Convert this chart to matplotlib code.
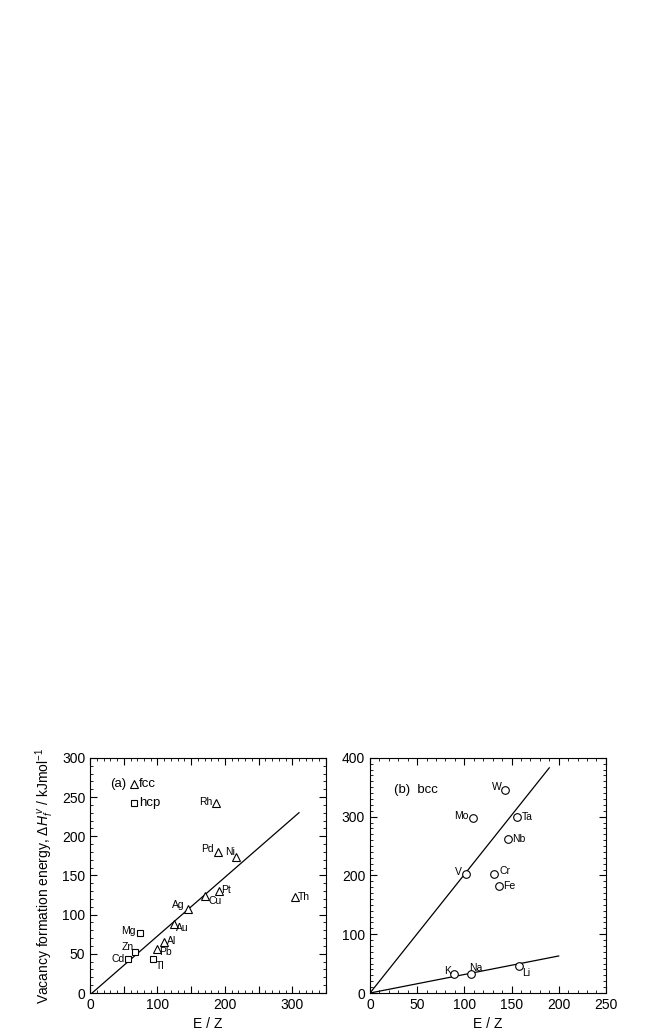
import matplotlib
matplotlib.use('Agg')
import matplotlib.pyplot as plt
from matplotlib.ticker import MultipleLocator, FuncFormatter

plt.rcParams['font.family'] = ['Liberation Sans', 'DejaVu Sans']
plt.rcParams['mathtext.fontset'] = 'custom'
plt.rcParams['mathtext.rm'] = 'Liberation Sans'
plt.rcParams['mathtext.it'] = 'Liberation Sans:italic'

# (a) fcc / hcp metals
fcc_names = ['Rh', 'Pd', 'Ni', 'Pt', 'Cu', 'Ag', 'Au', 'Al', 'Pb', 'Th']
fcc_ez = [187, 190, 217, 191, 171, 145, 124, 110, 99, 304]
fcc_h = [242, 180, 174, 130, 124, 107, 88, 65, 56, 122]

hcp_names = ['Mg', 'Zn', 'Cd', 'Tl']
hcp_ez = [74, 67, 57, 93]
hcp_h = [77, 52, 43, 43]

fit_a_x = [3, 310]
fit_a_y = [0, 230]

# (b) bcc metals
bcc_names = ['W', 'Mo', 'Ta', 'Nb', 'V', 'Cr', 'Fe', 'K', 'Na', 'Li']
bcc_ez = [143, 109, 156, 146, 102, 131, 137, 89, 107, 158]
bcc_h = [346, 298, 299, 262, 203, 203, 182, 32, 33, 46]

fit_b1_x = [0, 190]
fit_b1_y = [0, 383]
fit_b2_x = [0, 200]
fit_b2_y = [0, 63]

# label offsets (points) and alignment
fcc_off = {'Rh': (-3, 1, 'right'), 'Pd': (-3, 2, 'right'), 'Ni': (-1, 3, 'right'),
           'Pt': (2, 1, 'left'), 'Cu': (2, -4, 'left'), 'Ag': (-2, 3, 'right'),
           'Au': (2, -3, 'left'), 'Al': (2, 1, 'left'), 'Pb': (2, -2, 'left'),
           'Th': (2, 0, 'left')}
hcp_off = {'Mg': (-3, 1, 'right'), 'Zn': (-1, 4, 'right'), 'Cd': (-3, 0, 'right'),
           'Tl': (2, -5, 'left')}
bcc_off = {'W': (-2, 2, 'right'), 'Mo': (-3, 1, 'right'), 'Ta': (3, 0, 'left'),
           'Nb': (3, 0, 'left'), 'V': (-3, 1, 'right'), 'Cr': (4, 2, 'left'),
           'Fe': (3, 0, 'left'), 'K': (-2, 2, 'right'), 'Na': (-1, 4, 'left'),
           'Li': (2, -5, 'left')}

fig = plt.figure(figsize=(6.48, 10.36), dpi=100)
ax1 = fig.add_axes([0.139, 0.0415, 0.364, 0.227])
ax2 = fig.add_axes([0.571, 0.0415, 0.364, 0.227])


def style(ax):
    ax.tick_params(which='both', direction='in', top=True, right=True, labelsize=10)
    ax.tick_params(which='major', length=5, width=0.8)
    ax.tick_params(which='minor', length=2.5, width=0.6)
    for s in ax.spines.values():
        s.set_linewidth(0.8)


def label(ax, names, xs, ys, offs):
    for n, x, y in zip(names, xs, ys):
        dx, dy, ha = offs[n]
        ax.annotate(n, (x, y), xytext=(dx, dy), textcoords='offset points',
                    ha=ha, va='center', fontsize=7.5)


# panel (a)
ax1.plot(fit_a_x, fit_a_y, color='black', lw=0.9)
ax1.plot(fcc_ez, fcc_h, ls='none', marker='^', ms=6, mfc='white', mec='black', mew=0.8)
ax1.plot(hcp_ez, hcp_h, ls='none', marker='s', ms=5, mfc='white', mec='black', mew=0.8)
label(ax1, fcc_names, fcc_ez, fcc_h, fcc_off)
label(ax1, hcp_names, hcp_ez, hcp_h, hcp_off)
ax1.plot([65], [266], marker='^', ms=6, mfc='white', mec='black', mew=0.8)
ax1.plot([65], [243], marker='s', ms=5, mfc='white', mec='black', mew=0.8)
ax1.text(54, 266, '(a)', ha='right', va='center', fontsize=9.5)
ax1.text(73, 266, 'fcc', ha='left', va='center', fontsize=9.5)
ax1.text(73, 243, 'hcp', ha='left', va='center', fontsize=9.5)
ax1.set_xlim(0, 350)
ax1.set_ylim(0, 300)
ax1.xaxis.set_major_locator(MultipleLocator(50))
ax1.xaxis.set_minor_locator(MultipleLocator(10))
ax1.xaxis.set_major_formatter(FuncFormatter(lambda v, p: '%d' % v if v % 100 == 0 else ''))
ax1.yaxis.set_major_locator(MultipleLocator(50))
ax1.yaxis.set_minor_locator(MultipleLocator(10))
style(ax1)
ax1.set_xlabel('E / Z', fontsize=10)
ax1.set_ylabel(r'Vacancy formation energy, $\mathit{\Delta H_f^{\,v}}$ / kJmol$^{-1}$', fontsize=10)

# panel (b)
ax2.plot(fit_b1_x, fit_b1_y, color='black', lw=0.9)
ax2.plot(fit_b2_x, fit_b2_y, color='black', lw=0.9)
ax2.plot(bcc_ez, bcc_h, ls='none', marker='o', ms=5.5, mfc='white', mec='black', mew=0.8)
label(ax2, bcc_names, bcc_ez, bcc_h, bcc_off)
ax2.text(25, 346, '(b)  bcc', ha='left', va='center', fontsize=9.5)
ax2.set_xlim(0, 250)
ax2.set_ylim(0, 400)
ax2.xaxis.set_major_locator(MultipleLocator(50))
ax2.xaxis.set_minor_locator(MultipleLocator(10))
ax2.yaxis.set_major_locator(MultipleLocator(100))
ax2.yaxis.set_minor_locator(MultipleLocator(10))
style(ax2)
ax2.set_xlabel('E / Z', fontsize=10)

fig.savefig('out.png', dpi=100)
